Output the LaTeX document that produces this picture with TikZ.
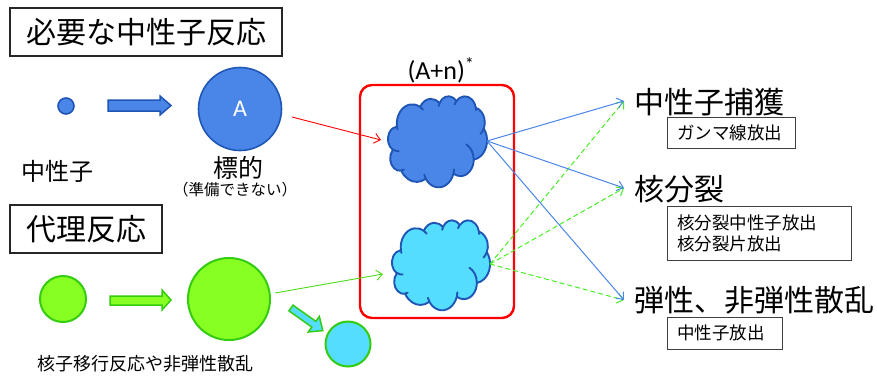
\documentclass[tikz,border=0pt]{standalone}
\usepackage{fontspec}
\setmainfont{Noto Sans CJK JP}
\newfontfamily\latinf{Carlito}
\usetikzlibrary{arrows.meta}
\definecolor{nblue}{HTML}{4A86E8}
\definecolor{nblueb}{HTML}{1F55B5}
\definecolor{ngreen}{HTML}{88FF22}
\definecolor{ngreenb}{HTML}{33CC11}
\definecolor{ncyan}{HTML}{55DDFF}
\definecolor{nred}{HTML}{FF0000}
\definecolor{ldash}{HTML}{44EE22}
\definecolor{lblue}{HTML}{4A86E8}
\newcommand{\fsz}[1]{\fontsize{#1}{#1}\selectfont}
% convert DrawingML visual angles to parametric angles
\newcommand{\prep}[5]{%
  \pgfmathsetmacro\tmpA{atan2(#2*sin(#4),#3*cos(#4))}%
  \pgfmathsetmacro\tmpB{atan2(#2*sin(#4+#5),#3*cos(#4+#5))}%
  \pgfmathsetmacro\tmpD{mod(\tmpB-\tmpA+720,360)}%
  \expandafter\xdef\csname cS#1\endcsname{\tmpA}%
  \expandafter\xdef\csname cD#1\endcsname{\tmpD}}
\newcommand{\cS}[1]{\csname cS#1\endcsname}
\newcommand{\cD}[1]{\csname cD#1\endcsname}
\newcommand{\ar}[3]{arc[x radius=#2, y radius=#3, start angle=\cS{#1}, delta angle=\cD{#1}]}
\begin{document}
\prep{o1}{675.3}{919.0}{-190.4875}{123.7805}%
\prep{o2}{533.3}{726.7}{-144.1024}{89.9452}%
\prep{o3}{436.5}{594.5}{-145.8079}{99.7230}%
\prep{o4}{485.7}{659.5}{-130.9861}{117.2417}%
\prep{o5}{533.3}{727.3}{-78.7089}{109.0269}%
\prep{o6}{677.5}{922.0}{-46.2673}{130.2690}%
\prep{o7}{578.5}{786.7}{0.6250}{114.0333}%
\prep{o8}{675.2}{921.5}{22.4516}{115.1726}%
\prep{o9}{772.0}{1054.3}{66.2426}{75.7110}%
\prep{o10}{436.0}{591.8}{-274.9421}{146.7356}%
\prep{o11}{434.5}{594.5}{-246.8285}{152.5189}%
\prep{k1}{434.5}{594.5}{86.7420}{26.4295}%
\prep{k2}{436.0}{591.8}{73.6105}{11.4475}%
\prep{k3}{675.2}{921.5}{137.6242}{14.0811}%
\prep{k4}{675.2}{921.5}{6.4533}{15.9984}%
\prep{k5}{578.5}{786.7}{-70.2924}{70.9174}%
\prep{k6}{533.3}{727.3}{30.3180}{27.7515}%
\prep{k7}{485.7}{659.5}{-13.7443}{14.8589}%
\prep{k8}{485.7}{659.5}{-149.1815}{18.1954}%
\prep{k9}{436.5}{594.5}{-163.4943}{17.6864}%
\prep{k10}{675.3}{919.0}{-66.7070}{12.3194}%
\prep{k11}{675.3}{919.0}{157.6544}{11.8582}%
\newcommand{\drawcloud}[1]{%
  \draw[cloudline, fill=#1] (390,1437)
    \ar{o1}{675.3}{919.0} \ar{o2}{533.3}{726.7} \ar{o3}{436.5}{594.5}
    \ar{o4}{485.7}{659.5} \ar{o5}{533.3}{727.3} \ar{o6}{677.5}{922.0}
    \ar{o7}{578.5}{786.7} \ar{o8}{675.2}{921.5} \ar{o9}{772.0}{1054.3}
    \ar{o10}{436.0}{591.8} \ar{o11}{434.5}{594.5} -- cycle;
  \draw[cloudline]
    (469.3,2617.7) \ar{k1}{434.5}{594.5}
    (692.8,3489.9) \ar{k2}{436.0}{591.8}
    (1647.8,3909.0) \ar{k3}{675.2}{921.5}
    (2882.7,3475.1) \ar{k4}{675.2}{921.5}
    (3412.9,2295.4) \ar{k5}{578.5}{786.7}
    (4179.8,1535.4) \ar{k6}{533.3}{727.3}
    (3832.4,542.6) \ar{k7}{485.7}{659.5}
    (2907.8,395.2) \ar{k8}{485.7}{659.5}
    (2214.1,472.0) \ar{k9}{436.5}{594.5}
    (1400.0,519.2) \ar{k10}{675.3}{919.0}
    (412.7,1578.9) \ar{k11}{675.3}{919.0};}
\begin{tikzpicture}[x=1pt,y=-1pt,
  titlebox/.style={draw=black!85, line width=1.2pt, inner sep=0pt, minimum height=48pt, font=\fsz{30}},
  subbox/.style={draw=black!75, line width=0.9pt, anchor=west, inner xsep=10pt, inner ysep=0pt, align=left, font=\fontsize{17.5}{21}\selectfont},
  rlabel/.style={anchor=west, inner sep=0pt, font=\fsz{30}},
  tip/.style={-{Straight Barb[length=6pt,width=10pt]}},
  barrow/.style={tip, draw=lblue, line width=1pt},
  garrow/.style={tip, draw=ldash, line width=1pt, dash pattern=on 5pt off 3pt},
  plain/.style={inner sep=0pt},
  bluecirc/.style={circle, fill=nblue, draw=nblueb, line width=1.6pt, inner sep=0pt},
  greencirc/.style={circle, fill=ngreen, draw=ngreenb, line width=2pt, inner sep=0pt},
  cloudline/.style={draw=nblueb, line width=1.9pt, line join=round, line cap=round}
]
\useasboundingbox (0,0) rectangle (877,376);

% titles
\node[titlebox, minimum width=272pt] (t1box) at (146,32) {必要な中性子反応};
\node[titlebox, minimum width=152pt] (t2box) at (86,229) {代理反応};

% neutron reaction row
\node[bluecirc, minimum size=16pt] (n) at (66,106) {};
\draw[fill=nblue, draw=nblueb, line width=1.5pt] (108,100) -- (160,100) -- (160,96) -- (171,105.5) -- (160,115) -- (160,111) -- (108,111) -- cycle;
\node[bluecirc, minimum size=83pt, text=white, font=\latinf\fsz{24}] (A) at (240,109) {A};
\node[plain, font=\fsz{24}] (nlab) at (57,171) {中性子};
\node[plain, font=\fsz{25}] (tlab) at (238,168) {標的};
\node[plain, font=\fsz{15.5}] (tlab2) at (235,190) {（準備できない）};

% surrogate row
\node[greencirc, minimum size=46pt] (g1) at (63,299) {};
\draw[fill=ngreen, draw=ngreenb, line width=1.5pt] (110,296) -- (162,296) -- (162,290) -- (171,300) -- (162,310) -- (162,305) -- (110,305) -- cycle;
\node[greencirc, minimum size=82pt] (g2) at (229,299) {};
\begin{scope}[shift={(291,308)}, rotate=-35.4]
\draw[fill=ncyan, draw=ngreenb, line width=1.5pt] (0,-3.5) -- (28,-3.5) -- (28,-9.5) -- (39,0) -- (28,9.5) -- (28,3.5) -- (0,3.5) -- cycle;
\end{scope}
\node[circle, fill=ncyan, draw=ngreenb, line width=2pt, inner sep=0pt, minimum size=45pt] (c3) at (348,344) {};
\node[plain, font=\fsz{18}] (slab) at (145,364) {核子移行反応や非弾性散乱};

% compound nucleus box
\node[draw=nred, line width=2.4pt, rounded corners=12pt, minimum width=154pt, minimum height=233pt] (rb) at (437,201.5) {};
\node[plain, font=\latinf\fsz{26}] (an) at (441,70) {(A+n)\textsuperscript{*}};
\begin{scope}[shift={(388,96)}, x=0.022917pt, y=-0.021065pt]
\drawcloud{nblue}
\end{scope}
\begin{scope}[shift={(392,220)}, x=0.022685pt, y=-0.020833pt]
\drawcloud{ncyan}
\end{scope}

% arrows into box
\coordinate (r0) at (292,117);
\coordinate (r1) at (381,140);
\draw[tip, draw=nred, line width=0.9pt] (r0) -- (r1);
\coordinate (q0) at (275,293);
\coordinate (q1) at (383,274);
\draw[tip, draw=ngreenb!70!ngreen, line width=0.9pt] (q0) -- (q1);

% outputs
\coordinate (s1) at (487,141);
\coordinate (s2) at (490,264);
\coordinate (e1) at (624,101);
\coordinate (e2) at (624,188);
\coordinate (e3) at (624,300);
\draw[garrow] (s2) -- (e1);
\draw[garrow] (s2) -- (e2);
\draw[garrow] (s2) -- (e3);
\draw[barrow] (s1) -- (e1);
\draw[barrow] (s1) -- (e2);
\draw[barrow] (s1) -- (e3);

\node[rlabel] (o1) at (634,102) {中性子捕獲};
\node[rlabel] (o2) at (634,189) {核分裂};
\node[rlabel] (o3) at (634,300) {弾性、非弾性散乱};

\node[subbox, minimum height=31pt, text width=108pt] (b1) at (667,132.5) {ガンマ線放出};
\node[subbox, minimum height=54pt, text width=164pt] (b2) at (667,233) {核分裂中性子放出\\核分裂片放出};
\node[subbox, minimum height=32pt, text width=95pt] (b3) at (667,333) {中性子放出};
\end{tikzpicture}
\end{document}
